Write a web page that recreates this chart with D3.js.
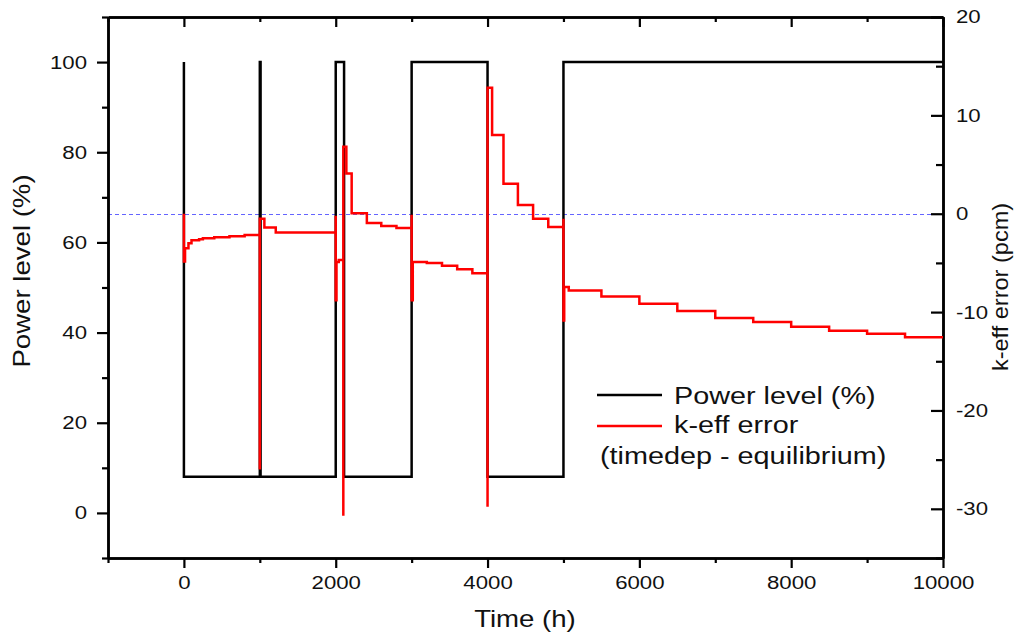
<!DOCTYPE html>
<html>
<head>
<meta charset="utf-8">
<script src="https://cdn.jsdelivr.net/npm/d3@7"></script>
<style>
  html, body { margin: 0; padding: 0; background: #fff; }
  svg { display: block; font-family: "Liberation Sans", Arial, sans-serif; }
  text { fill: #111; }
  .sx { transform-box: fill-box; transform: scaleX(1.2); }
  .sx-start { transform-origin: 0% 50%; }
  .sx-end { transform-origin: 100% 50%; }
  .sx-mid { transform-origin: 50% 50%; }
  .sx-rt { transform-box: fill-box; transform: scaleX(1.07); transform-origin: 50% 50%; }
</style>
</head>
<body>
<script>
(function (d3) {
  "use strict";

  /***** Data *****/
  // power history (%), step after
  var powerTime  = [0, 0, 1000, 1010, 2000, 2110, 3000, 4000, 5000, 10000];
  var powerLevel = [100, 8, 100, 8, 100, 8, 100, 8, 100, 100];

  // k-eff error (pcm), timedep - equilibrium, step after
  var keffTime = [0, 0, 15, 60, 100, 200, 250, 400, 600, 800,
                  1000, 1000, 1060, 1210,
                  2000, 2000, 2010, 2040, 2100, 2100, 2140, 2210, 2410, 2600, 2800,
                  3000, 3000, 3015, 3200, 3400, 3600, 3800,
                  4000, 4000, 4060, 4210, 4400, 4600, 4800,
                  5000, 5000, 5010, 5070, 5500, 6000, 6500, 7000, 7500, 8000, 8500, 9000, 9500, 10000];
  var keffError = [0, -4.85, -3.5, -3.0, -2.7, -2.6, -2.5, -2.4, -2.3, -2.15,
                   -26, -0.5, -1.4, -1.9,
                   -0.2, -8.8, -4.9, -4.7, -30.7, 6.8, 4.1, 0.05, -0.95, -1.26, -1.46,
                   -0.1, -8.8, -4.9, -5.0, -5.3, -5.65, -6.05,
                   -29.8, 12.8, 8.0, 3.05, 0.9, -0.5, -1.36,
                   -0.5, -10.85, -7.45, -7.8, -8.41, -9.16, -9.9, -10.6, -11.0, -11.5, -11.9, -12.2, -12.55, -12.55];

  var xMajorTicks = [0, 2000, 4000, 6000, 8000, 10000];
  var xMinorTicks = [-1000, 1000, 3000, 5000, 7000, 9000];
  var leftMajorTicks = [0, 20, 40, 60, 80, 100];
  var leftMinorTicks = [-10, 10, 30, 50, 70, 90, 110];
  var rightMajorTicks = [-30, -20, -10, 0, 10, 20];
  var rightMinorTicks = [-35, -25, -15, -5, 5, 15];

  var legendLabels = ["Power level (%)", "k-eff error", "(timedep - equilibrium)"];

  /***** Configuration *****/
  var width = 1020, height = 640;
  var margin = { top: 17, right: 77, bottom: 82, left: 108 };
  var plotW = width - margin.left - margin.right;
  var plotH = height - margin.top - margin.bottom;

  var x = d3.scaleLinear().domain([-1000, 10000]).range([0, plotW]);
  var yLeft = d3.scaleLinear().domain([-10, 110]).range([plotH, 0]);
  var yRight = d3.scaleLinear().domain([-35, 20]).range([plotH, 0]);

  // plain hyphen for negatives, like the original
  var plain = function (d) { return String(d); };

  var svg = d3.select("body").append("svg")
      .attr("width", width)
      .attr("height", height);

  var g = svg.append("g")
      .attr("transform", "translate(" + margin.left + "," + margin.top + ")");

  function styleAxis(sel, anchorClass) {
    sel.selectAll("path.domain").attr("stroke", "#000").attr("stroke-width", 2.5);
    sel.selectAll(".tick line").attr("stroke", "#000").attr("stroke-width", 2.2);
    sel.selectAll(".tick text")
        .attr("font-size", "18.5px")
        .attr("fill", "#111")
        .attr("class", "sx " + anchorClass);
  }

  /***** Zero line *****/
  var zeroY = Math.round(yRight(0)) + 0.5;
  g.append("line")
      .attr("x1", 0).attr("x2", plotW)
      .attr("y1", zeroY).attr("y2", zeroY)
      .attr("stroke", "#6464ff")
      .attr("stroke-width", 1)
      .attr("stroke-dasharray", "4,3");

  /***** Axes *****/
  g.append("g").attr("transform", "translate(0," + plotH + ")")
      .call(d3.axisBottom(x).tickValues(xMajorTicks).tickSize(10).tickSizeOuter(0).tickPadding(8).tickFormat(plain))
      .call(styleAxis, "sx-mid");
  g.append("g").attr("transform", "translate(0," + plotH + ")")
      .call(d3.axisBottom(x).tickValues(xMinorTicks).tickSize(5).tickSizeOuter(0).tickFormat(""))
      .call(styleAxis, "sx-mid");

  g.append("g")
      .call(d3.axisTop(x).tickValues(xMajorTicks).tickSize(-10).tickSizeOuter(0).tickFormat(""))
      .call(styleAxis, "sx-mid");
  g.append("g")
      .call(d3.axisTop(x).tickValues(xMinorTicks).tickSize(-5).tickSizeOuter(0).tickFormat(""))
      .call(styleAxis, "sx-mid");

  g.append("g")
      .call(d3.axisLeft(yLeft).tickValues(leftMajorTicks).tickSize(11).tickSizeOuter(0).tickPadding(10).tickFormat(plain))
      .call(styleAxis, "sx-end");
  g.append("g")
      .call(d3.axisLeft(yLeft).tickValues(leftMinorTicks).tickSize(6).tickSizeOuter(0).tickFormat(""))
      .call(styleAxis, "sx-end");

  g.append("g").attr("transform", "translate(" + plotW + ",0)")
      .call(d3.axisRight(yRight).tickValues(rightMajorTicks).tickSize(-12).tickSizeOuter(0).tickPadding(13).tickFormat(plain))
      .call(styleAxis, "sx-start");
  g.append("g").attr("transform", "translate(" + plotW + ",0)")
      .call(d3.axisRight(yRight).tickValues(rightMinorTicks).tickSize(-7).tickSizeOuter(0).tickFormat(""))
      .call(styleAxis, "sx-start");

  /***** Series *****/
  var powerLine = d3.line()
      .x(function (d) { return x(d[0]); })
      .y(function (d) { return yLeft(d[1]); })
      .curve(d3.curveStepAfter);

  var keffLine = d3.line()
      .x(function (d) { return x(d[0]); })
      .y(function (d) { return yRight(d[1]); })
      .curve(d3.curveStepAfter);

  g.append("path")
      .datum(d3.zip(powerTime, powerLevel))
      .attr("fill", "none")
      .attr("stroke", "#000")
      .attr("stroke-width", 2.5)
      .attr("d", powerLine);

  g.append("path")
      .datum(d3.zip(keffTime, keffError))
      .attr("fill", "none")
      .attr("stroke", "#ff0000")
      .attr("stroke-width", 2.5)
      .attr("d", keffLine);

  /***** Axis titles *****/
  svg.append("text")
      .attr("x", 525).attr("y", 627)
      .attr("text-anchor", "middle")
      .attr("font-size", "23px")
      .attr("class", "sx sx-mid")
      .text("Time (h)");

  svg.append("g")
      .attr("transform", "translate(30,271) rotate(-90)")
      .append("text")
      .attr("text-anchor", "middle")
      .attr("font-size", "23px")
      .attr("class", "sx sx-mid")
      .text("Power level (%)");

  svg.append("g")
      .attr("transform", "translate(1008,287) rotate(-90)")
      .append("text")
      .attr("text-anchor", "middle")
      .attr("font-size", "22px")
      .attr("class", "sx-rt")
      .text("k-eff error (pcm)");

  /***** Legend *****/
  var legend = svg.append("g").attr("transform", "translate(597,395)");
  legend.append("line").attr("x1", 0).attr("x2", 65).attr("y1", 0).attr("y2", 0)
      .attr("stroke", "#000").attr("stroke-width", 2.5);
  legend.append("line").attr("x1", 0).attr("x2", 65).attr("y1", 31).attr("y2", 31)
      .attr("stroke", "#ff0000").attr("stroke-width", 2.5);
  legend.append("text").attr("x", 77).attr("y", 8.5)
      .attr("font-size", "24px").attr("class", "sx sx-start").text(legendLabels[0]);
  legend.append("text").attr("x", 77).attr("y", 38.5)
      .attr("font-size", "24px").attr("class", "sx sx-start").text(legendLabels[1]);
  legend.append("text").attr("x", 3).attr("y", 69)
      .attr("font-size", "24px").attr("class", "sx sx-start").text(legendLabels[2]);

})(d3);
</script>
</body>
</html>
